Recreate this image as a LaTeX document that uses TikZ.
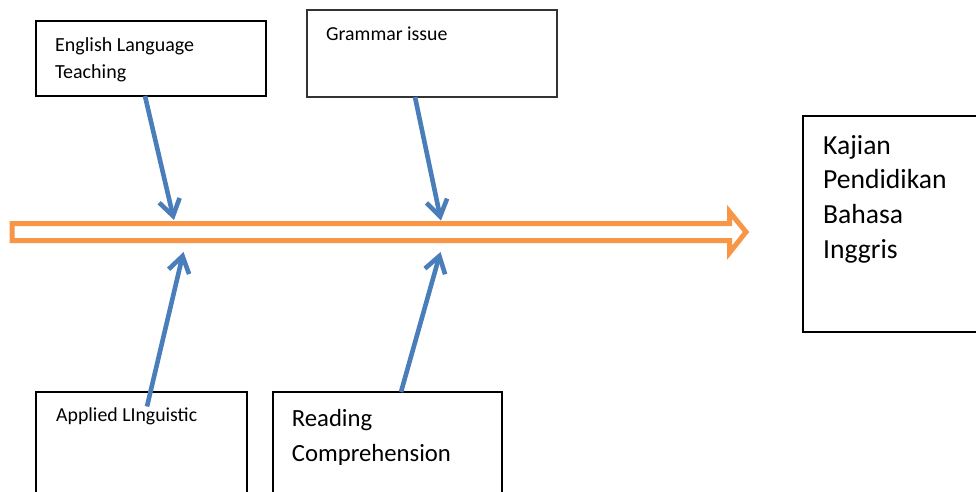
\documentclass[tikz,border=0pt]{standalone}
\usepackage{fontspec}
\setmainfont{Carlito}
\usetikzlibrary{arrows.meta}
\definecolor{spine}{HTML}{F79646}
\definecolor{bone}{HTML}{4A7EBB}
\begin{document}
\begin{tikzpicture}[x=1pt,y=-1pt,
  box/.style={draw=black, line width=1.3pt, rectangle, inner sep=0pt, outer sep=0pt, anchor=north west},
  boxtext/.style={inner sep=0pt, anchor=base west},
  small/.style={font=\fontsize{20}{26.5}\selectfont},
  bonearrow/.style={draw=bone, line width=4.6pt, -{Straight Barb[length=16pt,width=21pt,line join=miter]}},
]
\useasboundingbox (0,0) rectangle (976,491);

% cause boxes
\node[box, minimum width=230, minimum height=75] (elt) at (36,21) {};
\node[box, draw=black!80, minimum width=250, minimum height=87] (gram) at (307,10) {};
\node[box, minimum width=200, minimum height=216] (kaj) at (803,116) {};
\node[box, minimum width=211, minimum height=120] (appl) at (36,392) {};
\node[box, minimum width=229, minimum height=120] (read) at (273,392) {};

% box labels
\node[boxtext, small] (eltT) at (55,51.7) {\parbox[t]{200pt}{\raggedright English Language\\Teaching}};
\node[boxtext, font=\fontsize{19.8}{24}\selectfont] (gramT) at (326,40) {Grammar issue};
\node[boxtext, font=\fontsize{27.6}{34.7}\selectfont] (kajT) at (823,154) {\parbox[t]{200pt}{\raggedright Kajian\\Pendidikan\\Bahasa\\Inggris}};
\node[boxtext, font=\fontsize{19.8}{24}\selectfont] (applT) at (56,421) {Applied LInguistic};
\node[boxtext, font=\fontsize{24.7}{35}\selectfont] (readT) at (291.7,426.7) {\parbox[t]{200pt}{\raggedright Reading\\Comprehension}};

% hollow spine arrow
\draw[spine, line width=5pt, line join=miter, miter limit=10]
  (12,223.5) -- (729.7,223.5) -- (729.7,212) -- (746,232)
  -- (729.7,252.5) -- (729.7,240.5) -- (12,240.5) -- cycle;

% bone end points
\coordinate (b1s) at (145,96);    \coordinate (b1e) at (174,220);
\coordinate (b2s) at (415,97);    \coordinate (b2e) at (441,220.5);
\coordinate (b3s) at (147,406.5); \coordinate (b3e) at (183.5,252);
\coordinate (b4s) at (401,392);   \coordinate (b4e) at (440.5,252);

\draw[bonearrow] (b1s) -- (b1e);
\draw[bonearrow] (b2s) -- (b2e);
\draw[bonearrow] (b3s) -- (b3e);
\draw[bonearrow] (b4s) -- (b4e);
\end{tikzpicture}
\end{document}
